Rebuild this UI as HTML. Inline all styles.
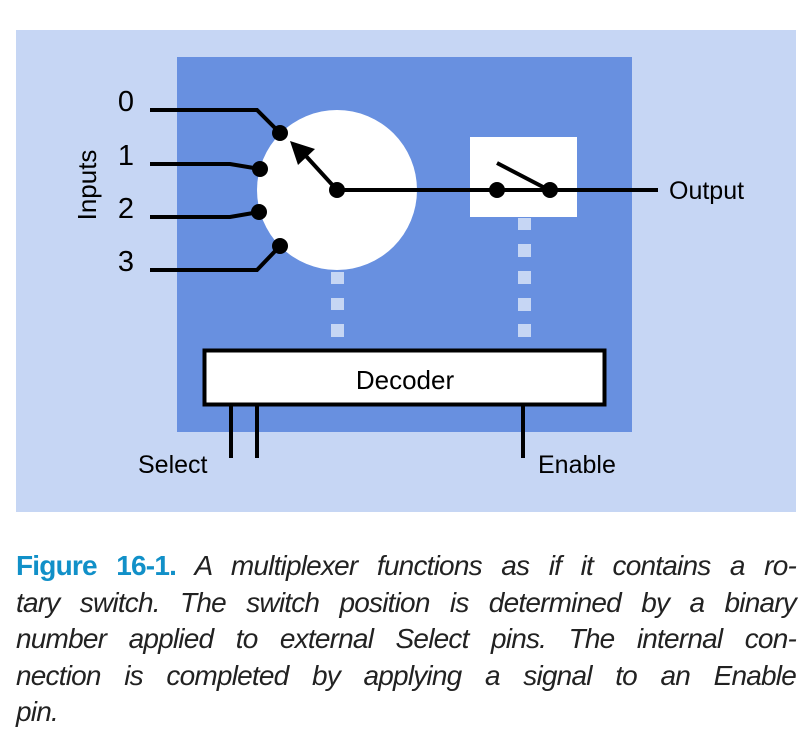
<!DOCTYPE html>
<html><head><meta charset="utf-8"><style>
html,body{margin:0;padding:0;background:#fff;width:808px;height:748px;overflow:hidden}
.cap{position:absolute;left:16px;width:780px;font-family:"Liberation Sans",sans-serif;font-style:italic;font-size:28px;color:#222;text-align:justify;text-align-last:justify;white-space:nowrap;letter-spacing:-0.8px;line-height:32px}
.cap.last{text-align-last:left}
.fb{font-style:normal;font-weight:bold;color:#1190c8}
</style></head><body>
<svg width="808" height="520" style="position:absolute;left:0;top:0" font-family="Liberation Sans, sans-serif">
<rect x="16" y="30" width="780" height="482" fill="#c6d6f4"/>
<rect x="177" y="57" width="455" height="375" fill="#6890e0"/>
<circle cx="337" cy="190" r="80" fill="#fff"/>
<rect x="470" y="137" width="107" height="80" fill="#fff"/>
<g fill="#c6d6f4">
<rect x="331" y="272" width="13" height="12"/><rect x="331" y="298" width="13" height="12"/><rect x="331" y="324" width="13" height="13"/>
<rect x="518" y="218" width="13" height="12"/><rect x="518" y="244" width="13" height="13"/><rect x="518" y="271" width="13" height="13"/><rect x="518" y="298" width="13" height="13"/><rect x="518" y="324" width="13" height="13"/>
</g>
<g stroke="#000" stroke-width="4" fill="none">
<polyline points="150,110 257,110 280,133"/>
<polyline points="150,164 230,164 260,169"/>
<polyline points="150,217 230,217 259,212"/>
<polyline points="150,270 257,270 280,246"/>
<line x1="337" y1="190" x2="658" y2="190"/>
<line x1="497" y1="163" x2="545" y2="188"/>
<line x1="337" y1="190" x2="305" y2="155"/>
<line x1="231" y1="405" x2="231" y2="458"/>
<line x1="257" y1="405" x2="257" y2="458"/>
<line x1="523" y1="405" x2="523" y2="458"/>
</g>
<polygon points="290,141 315,149 298,165" fill="#000"/>
<g fill="#000">
<circle cx="280" cy="133" r="8"/><circle cx="260" cy="169" r="8"/><circle cx="259" cy="212" r="8"/><circle cx="280" cy="246" r="8"/>
<circle cx="337" cy="190" r="8"/><circle cx="497" cy="190" r="8"/><circle cx="550" cy="190" r="8"/>
</g>
<rect x="204.5" y="350.5" width="400" height="54" fill="#fff" stroke="#000" stroke-width="4"/>
<text x="405" y="389" font-size="26" text-anchor="middle">Decoder</text>
<g font-size="29" text-anchor="middle">
<text x="126" y="111">0</text><text x="126" y="165">1</text><text x="126" y="218">2</text><text x="126" y="271">3</text>
</g>
<text transform="translate(96,185) rotate(-90)" font-size="26" text-anchor="middle">Inputs</text>
<text x="669" y="199" font-size="25">Output</text>
<text x="138" y="473" font-size="25">Select</text>
<text x="538" y="473" font-size="25">Enable</text>
</svg>
<div class="cap" style="top:550px"><span class="fb">Figure 16-1.</span> A multiplexer functions as if it contains a ro-</div>
<div class="cap" style="top:587px">tary switch. The switch position is determined by a binary</div>
<div class="cap" style="top:623px">number applied to external Select pins. The internal con-</div>
<div class="cap" style="top:660px">nection is completed by applying a signal to an Enable</div>
<div class="cap last" style="top:696px">pin.</div>
</body></html>
